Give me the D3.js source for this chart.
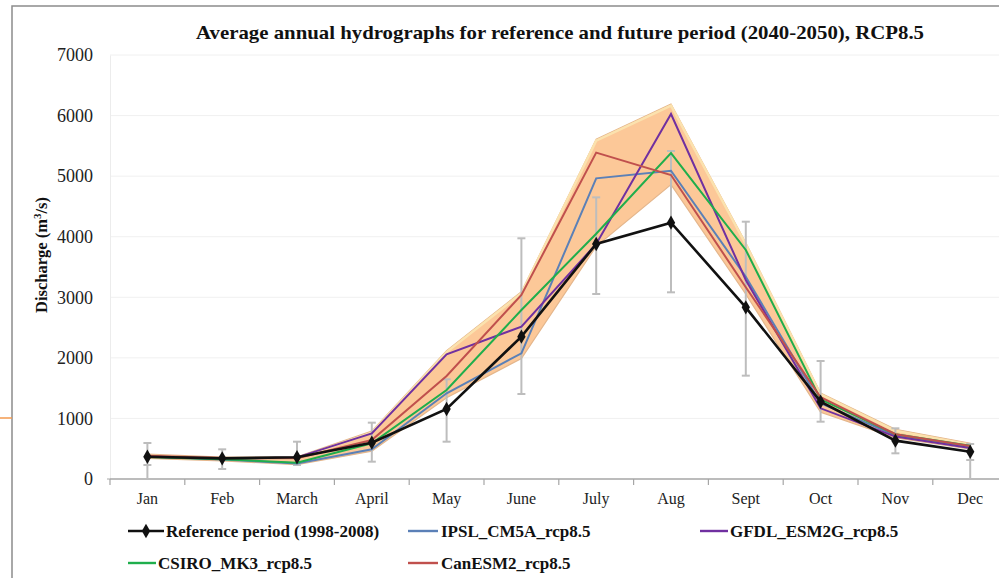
<!DOCTYPE html>
<html>
<head>
<meta charset="utf-8">
<script src="https://cdn.jsdelivr.net/npm/d3@7"></script>
<style>
  body { margin: 0; background: #fff; }
  svg { display: block; font-family: "Liberation Serif", "Times New Roman", serif; }
</style>
</head>
<body>
<div id="chart"></div>
<script>
// Chart data
var months = ["Jan", "Feb", "March", "April", "May", "June", "July", "Aug", "Sept", "Oct", "Nov", "Dec"];
var refValues = [368, 341, 358, 600, 1156, 2350, 3880, 4232, 2834, 1277, 633, 451];
var refUpper = [594, 490, 616, 930, 1646, 3974, 4650, 5415, 4248, 1948, 837, 578];
var refLower = [231, 165, 231, 286, 616, 1403, 3054, 3082, 1706, 946, 424, 314];
var ipsl = [370, 320, 258, 490, 1415, 2075, 4964, 5090, 3340, 1250, 720, 520];
var gfdl = [370, 335, 357, 754, 2058, 2515, 3880, 6026, 3285, 1167, 700, 510];
var csiro = [365, 325, 270, 589, 1469, 2790, 4050, 5380, 3781, 1315, 740, 550];
var canesm = [385, 345, 341, 644, 1700, 3038, 5388, 5019, 3165, 1350, 740, 545];
var bandUpper = [410, 360, 365, 790, 2120, 3090, 5610, 6190, 3900, 1420, 820, 590];
var bandLower = [340, 300, 235, 460, 1340, 1990, 3840, 4860, 3050, 1100, 680, 495];
var yTicks = [0, 1000, 2000, 3000, 4000, 5000, 6000, 7000];

var futureSeries = [
    { name: "IPSL_CM5A_rcp8.5", values: ipsl, color: "#5b80b7" },
    { name: "GFDL_ESM2G_rcp8.5", values: gfdl, color: "#7030a0" },
    { name: "CSIRO_MK3_rcp8.5", values: csiro, color: "#1fae4c" },
    { name: "CanESM2_rcp8.5", values: canesm, color: "#c0504d" }
];

var svgWidth = 999;
var svgHeight = 578;

var plotLeft = 110;
var plotTop = 55;
var plotBottom = 479;
var bandStep = 74.8;

var svg = d3.select("#chart")
 .append("svg")
 .attr("width", svgWidth)
 .attr("height", svgHeight);

// Frame around the picture
svg.append("rect")
 .attr("x", 12)
 .attr("y", 6)
 .attr("width", 1100)
 .attr("height", 700)
 .attr("fill", "none")
 .attr("stroke", "#8c8c8c")
 .attr("stroke-width", 1.5);

svg.append("line")
 .attr("x1", 0).attr("x2", 12)
 .attr("y1", 418).attr("y2", 418)
 .attr("stroke", "#f39a4f")
 .attr("stroke-width", 1.5);

// Scales
var xScale = d3.scaleBand()
 .domain(months)
 .range([plotLeft, plotLeft + bandStep * months.length]);

var xMid = d => xScale(d) + xScale.bandwidth() / 2;

var yScale = d3.scaleLinear()
 .domain([0, 7000])
 .range([plotBottom, plotTop]);

// Gridlines
svg.append("g")
 .selectAll("line")
 .data(yTicks.slice(1))
 .enter()
 .append("line")
 .attr("x1", plotLeft)
 .attr("x2", svgWidth)
 .attr("y1", d => yScale(d))
 .attr("y2", d => yScale(d))
 .attr("stroke", "#f0f0f0")
 .attr("stroke-width", 1);

// Y axis
var leftAxis = d3.axisLeft(yScale)
 .tickValues(yTicks)
 .tickFormat(d3.format("d"))
 .tickSize(0)
 .tickPadding(17);

var yAxis = svg.append("g")
 .attr("transform", `translate(${plotLeft}, 0)`)
 .call(leftAxis);

yAxis.select(".domain").attr("stroke", "#ececec");
yAxis.selectAll("text")
 .attr("font-family", "Liberation Serif")
 .attr("font-size", 18)
 .attr("fill", "#222");

svg.append("line")
 .attr("x1", plotLeft - 3).attr("x2", plotLeft)
 .attr("y1", plotBottom).attr("y2", plotBottom)
 .attr("stroke", "#a6a6a6");

// X axis
var bottomAxis = d3.axisBottom(xScale)
 .tickSize(0)
 .tickPadding(14);

var xAxis = svg.append("g")
 .attr("transform", `translate(0, ${plotBottom})`)
 .call(bottomAxis);

xAxis.select(".domain").remove();
xAxis.selectAll("text")
 .attr("font-family", "Liberation Serif")
 .attr("font-size", 16)
 .attr("fill", "#222");

svg.append("line")
 .attr("x1", plotLeft).attr("x2", svgWidth)
 .attr("y1", plotBottom).attr("y2", plotBottom)
 .attr("stroke", "#a6a6a6")
 .attr("stroke-width", 1.5);

svg.append("g")
 .selectAll("line")
 .data(months)
 .enter()
 .append("line")
 .attr("x1", d => xScale(d))
 .attr("x2", d => xScale(d))
 .attr("y1", plotBottom)
 .attr("y2", plotBottom + 6)
 .attr("stroke", "#a6a6a6")
 .attr("stroke-width", 1.2);

// Uncertainty band of the future runs
var bandData = months.map((m, i) => ({ month: m, hi: bandUpper[i], lo: bandLower[i] }));

var bandArea = d3.area()
 .x(d => xMid(d.month))
 .y0(d => yScale(d.lo))
 .y1(d => yScale(d.hi));

svg.append("path")
 .datum(bandData)
 .attr("d", bandArea)
 .attr("fill", "#fcc898")
 .attr("stroke", "#e4b68c")
 .attr("stroke-width", 1.2);

var bandTopLine = d3.line()
 .x(d => xMid(d.month))
 .y(d => yScale(d.hi));

svg.append("path")
 .datum(bandData)
 .attr("d", bandTopLine)
 .attr("transform", "translate(0, 1.5)")
 .attr("fill", "none")
 .attr("stroke", "#fbe2ae")
 .attr("stroke-width", 2.5);

// Error bars of the reference period
var errData = months.map((m, i) => ({ month: m, hi: refUpper[i], lo: refLower[i] }));
var errGroup = svg.append("g")
 .attr("stroke", "#bdbdbd")
 .attr("stroke-width", 2);

errGroup.selectAll(".bar")
 .data(errData)
 .enter()
 .append("line")
 .attr("x1", d => xMid(d.month))
 .attr("x2", d => xMid(d.month))
 .attr("y1", d => yScale(d.hi))
 .attr("y2", d => yScale(d.lo));

errGroup.selectAll(".capHi")
 .data(errData)
 .enter()
 .append("line")
 .attr("x1", d => xMid(d.month) - 4)
 .attr("x2", d => xMid(d.month) + 4)
 .attr("y1", d => yScale(d.hi))
 .attr("y2", d => yScale(d.hi));

errGroup.selectAll(".capLo")
 .data(errData)
 .enter()
 .append("line")
 .attr("x1", d => xMid(d.month) - 4)
 .attr("x2", d => xMid(d.month) + 4)
 .attr("y1", d => yScale(d.lo))
 .attr("y2", d => yScale(d.lo));

// drop lines at first and last month
errGroup.selectAll(".drop")
 .data([errData[0], errData[errData.length - 1]])
 .enter()
 .append("line")
 .attr("x1", d => xMid(d.month))
 .attr("x2", d => xMid(d.month))
 .attr("y1", d => yScale(d.lo))
 .attr("y2", yScale(0));

// Future series lines
var valueLine = d3.line()
 .x((d, i) => xMid(months[i]))
 .y(d => yScale(d));

svg.append("g")
 .selectAll("path")
 .data(futureSeries)
 .enter()
 .append("path")
 .attr("d", d => valueLine(d.values))
 .attr("fill", "none")
 .attr("stroke", d => d.color)
 .attr("stroke-width", 2);

// Reference line with diamonds
svg.append("path")
 .datum(refValues)
 .attr("d", valueLine)
 .attr("fill", "none")
 .attr("stroke", "#111")
 .attr("stroke-width", 2.6);

var diamond = d3.symbol().type(d3.symbolDiamond).size(60);

svg.append("g")
 .selectAll("path")
 .data(refValues)
 .enter()
 .append("path")
 .attr("d", diamond)
 .attr("transform", (d, i) => `translate(${xMid(months[i])}, ${yScale(d)})`)
 .attr("fill", "#111");

// Title
svg.append("text")
 .attr("x", 560)
 .attr("y", 39)
 .attr("text-anchor", "middle")
 .attr("font-family", "Liberation Serif")
 .attr("font-weight", "bold")
 .attr("font-size", 19)
 .attr("textLength", 728)
 .attr("lengthAdjust", "spacingAndGlyphs")
 .attr("fill", "#111")
 .text("Average annual hydrographs  for reference and future period (2040-2050), RCP8.5");

// Y axis title
var yTitle = svg.append("text")
 .attr("transform", "translate(47, 255) rotate(-90)")
 .attr("text-anchor", "middle")
 .attr("font-family", "Liberation Serif")
 .attr("font-weight", "bold")
 .attr("font-size", 16.5)
 .attr("fill", "#111");

yTitle.append("tspan").text("Discharge (m");
yTitle.append("tspan").attr("font-size", 11).attr("dy", -6).text("3");
yTitle.append("tspan").attr("dy", 6).text("/s)");

// Legend
var legendItems = [
    { name: "Reference period (1998-2008)", color: "#111", x1: 128, x2: 164, tx: 166, y: 531, marker: true },
    { name: futureSeries[0].name, color: futureSeries[0].color, x1: 408, x2: 438, tx: 441, y: 531 },
    { name: futureSeries[1].name, color: futureSeries[1].color, x1: 700, x2: 728, tx: 730, y: 531 },
    { name: futureSeries[2].name, color: futureSeries[2].color, x1: 128, x2: 156, tx: 158, y: 563 },
    { name: futureSeries[3].name, color: futureSeries[3].color, x1: 408, x2: 438, tx: 441, y: 563 }
];

var legend = svg.append("g");

legend.selectAll("line")
 .data(legendItems)
 .enter()
 .append("line")
 .attr("x1", d => d.x1)
 .attr("x2", d => d.x2)
 .attr("y1", d => d.y)
 .attr("y2", d => d.y)
 .attr("stroke", d => d.color)
 .attr("stroke-width", d => d.marker ? 2.6 : 2.4);

legend.selectAll("path")
 .data(legendItems.filter(d => d.marker))
 .enter()
 .append("path")
 .attr("d", diamond)
 .attr("transform", d => `translate(${(d.x1 + d.x2) / 2}, ${d.y})`)
 .attr("fill", "#111");

legend.selectAll("text")
 .data(legendItems)
 .enter()
 .append("text")
 .attr("x", d => d.tx)
 .attr("y", d => d.y + 6)
 .attr("font-family", "Liberation Serif")
 .attr("font-weight", "bold")
 .attr("font-size", 17)
 .attr("fill", "#111")
 .text(d => d.name);
</script>
</body>
</html>
